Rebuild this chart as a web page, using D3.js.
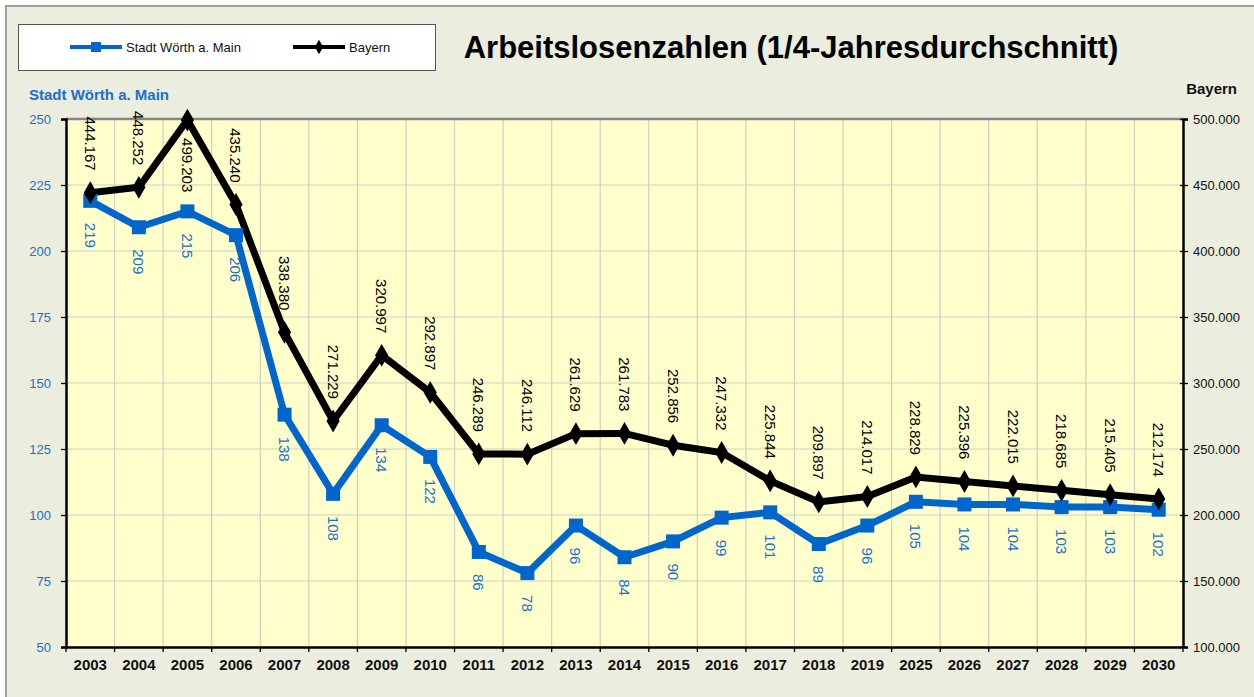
<!DOCTYPE html>
<html><head><meta charset="utf-8">
<script src="https://cdn.jsdelivr.net/npm/d3@7/dist/d3.min.js"></script>
<style>body{margin:0;background:#fff;}svg{display:block;font-family:"Liberation Sans",Arial,sans-serif;}</style>
</head><body><svg id="c" width="1254" height="697"></svg>
<script>
const years = ["2003","2004","2005","2006","2007","2008","2009","2010","2011","2012","2013","2014","2015","2016","2017","2018","2019","2025","2026","2027","2028","2029","2030"];
const stadt = [219,209,215,206,138,108,134,122,86,78,96,84,90,99,101,89,96,105,104,104,103,103,102];
const bayern = [444167,448252,499203,435240,338380,271229,320997,292897,246289,246112,261629,261783,252856,247332,225844,209897,214017,228829,225396,222015,218685,215405,212174];
const leftTicks = [50,75,100,125,150,175,200,225,250];
const rightTicks = [100000,150000,200000,250000,300000,350000,400000,450000,500000];

const svg = d3.select("#c");
const L = 66, R = 1183, T = 119, B = 647;
const blue = "#0066CC", blueTxt = "#1A6FD0";

// chart background
svg.append("rect").attr("x",6).attr("y",6).attr("width",1300).attr("height",750)
  .attr("fill","#EBEDDE").attr("stroke","#A0A0A0").attr("stroke-width",2);

const x = d3.scaleBand().domain(years).range([L,R]).padding(0);
const yL = d3.scaleLinear().domain([50,250]).range([B,T]);
const yR = d3.scaleLinear().domain([100000,500000]).range([B,T]);

svg.append("rect").attr("x",L).attr("y",T).attr("width",R-L).attr("height",B-T).attr("fill","#FFFFCC");

// grid
const g = svg.append("g");
g.selectAll("line.h").data(leftTicks).join("line")
  .attr("x1",L).attr("x2",R).attr("y1",d=>yL(d)).attr("y2",d=>yL(d))
  .attr("stroke","#CFCFC4").attr("stroke-width",1.2);
g.selectAll("line.v").data(years.slice(1)).join("line")
  .attr("x1",d=>x(d)).attr("x2",d=>x(d)).attr("y1",T).attr("y2",B)
  .attr("stroke","#CFCFC4").attr("stroke-width",1.2);
// top border
svg.append("line").attr("x1",L).attr("x2",R).attr("y1",T).attr("y2",T).attr("stroke","#858585").attr("stroke-width",2.5);

// axes
const fmtDE = v => d3.format(",.0f")(v).replace(/,/g,".");
const axL = svg.append("g").attr("transform",`translate(${L},0)`)
  .call(d3.axisLeft(yL).tickValues(leftTicks).tickSize(5).tickPadding(10));
axL.selectAll("text").attr("fill",blueTxt).style("font-size","13px").style("font-family","Liberation Sans, Arial");
const axR = svg.append("g").attr("transform",`translate(${R},0)`)
  .call(d3.axisRight(yR).tickValues(rightTicks).tickFormat(fmtDE).tickSize(5).tickPadding(5));
axR.selectAll("text").attr("fill","#111").style("font-size","13px").style("font-family","Liberation Sans, Arial");
const axB = svg.append("g").attr("transform",`translate(0,${B})`)
  .call(d3.axisBottom(x).tickSize(0).tickPadding(12));
axB.selectAll("text").attr("fill","#111").style("font-size","15px").style("font-weight","bold").style("font-family","Liberation Sans, Arial");
// bottom tick marks at band boundaries
svg.append("g").selectAll("line").data(years.concat(["end"])).join("line")
  .attr("x1",(d,i)=>L+i*x.bandwidth()).attr("x2",(d,i)=>L+i*x.bandwidth())
  .attr("y1",B).attr("y2",B+5).attr("stroke","#000").attr("stroke-width",1.3);
[axL,axR,axB].forEach(a=>{a.select(".domain").attr("stroke","#000").attr("stroke-width",2.5);a.selectAll(".tick line").attr("stroke","#000").attr("stroke-width",1.3);});
axR.selectAll(".tick line").attr("x1",-3);

const cx = d => x(d)+x.bandwidth()/2;

// lines
const lineS = d3.line().x((d,i)=>cx(years[i])).y(d=>yL(d));
const lineB = d3.line().x((d,i)=>cx(years[i])).y(d=>yR(d));
svg.append("path").attr("d",lineS(stadt)).attr("fill","none").attr("stroke",blue).attr("stroke-width",7).attr("stroke-linejoin","miter");
svg.append("path").attr("d",lineB(bayern)).attr("fill","none").attr("stroke","#000").attr("stroke-width",7).attr("stroke-linejoin","miter");

// markers
svg.append("g").selectAll("rect").data(stadt).join("rect")
  .attr("x",(d,i)=>cx(years[i])-7).attr("y",d=>yL(d)-7).attr("width",14).attr("height",14).attr("fill",blue);
svg.append("g").selectAll("path").data(bayern).join("path")
  .attr("d",d3.symbol().type(d3.symbolDiamond).size(150))
  .attr("transform",(d,i)=>`translate(${cx(years[i])},${yR(d)})`).attr("fill","#000");

// data labels (rotated)
svg.append("g").selectAll("text").data(bayern).join("text")
  .attr("transform",(d,i)=>{
    const y = yR(d);
    const below = y - 22 - 55 < 100;
    return `translate(${cx(years[i])},${below ? y+18 : y-22}) rotate(90)`;
  })
  .attr("text-anchor",d=> (yR(d)-77<100) ? "start":"end")
  .attr("dominant-baseline","central")
  .attr("fill","#000").style("font-size","15px").text(d=>fmtDE(d));
svg.append("g").selectAll("text").data(stadt).join("text")
  .attr("transform",(d,i)=>`translate(${cx(years[i])},${yL(d)+22}) rotate(90)`)
  .attr("text-anchor","start").attr("dominant-baseline","central")
  .attr("fill",blueTxt).style("font-size","15px").text(d=>d);

// axis titles
svg.append("text").attr("x",29).attr("y",100).attr("fill",blueTxt).style("font-size","15px").style("font-weight","bold").text("Stadt Wörth a. Main");
svg.append("text").attr("x",1237).attr("y",94).attr("text-anchor","end").attr("fill","#111").style("font-size","15px").style("font-weight","bold").text("Bayern");

// title
svg.append("text").attr("x",791).attr("y",58).attr("text-anchor","middle").attr("fill","#000")
  .style("font-size","31px").style("font-weight","bold").text("Arbeitslosenzahlen (1/4-Jahresdurchschnitt)");

// legend
const lg = svg.append("g");
lg.append("rect").attr("x",18.5).attr("y",24.5).attr("width",417).attr("height",46).attr("fill","#fff").attr("stroke","#555").attr("stroke-width",1);
lg.append("line").attr("x1",70).attr("x2",122).attr("y1",47).attr("y2",47).attr("stroke",blue).attr("stroke-width",4);
lg.append("rect").attr("x",91).attr("y",42).attr("width",10).attr("height",10).attr("fill",blue);
lg.append("text").attr("x",126).attr("y",51.5).style("font-size","13px").attr("fill","#111").text("Stadt Wörth a. Main");
lg.append("line").attr("x1",293).attr("x2",345).attr("y1",47).attr("y2",47).attr("stroke","#000").attr("stroke-width",4);
lg.append("path").attr("d",d3.symbol().type(d3.symbolDiamond).size(60)).attr("transform","translate(319,47)").attr("fill","#000");
lg.append("text").attr("x",349).attr("y",51.5).style("font-size","13px").attr("fill","#111").text("Bayern");
</script></body></html>
